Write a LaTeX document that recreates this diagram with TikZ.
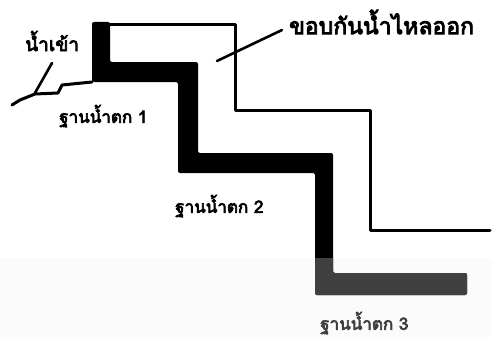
\documentclass[tikz,border=0pt]{standalone}
\usepackage{fontspec}
\newfontfamily\thaifont[Script=Thai, FakeBold=4]{Loma}
\definecolor{scan}{HTML}{404040}
\tikzset{
  lbl/.style={inner sep=0pt, anchor=west, font=\thaifont\fontsize{17}{17}\selectfont},
  thin/.style={line width=3pt, line join=round, line cap=round},
  lead/.style={line width=2.6pt, line cap=round}
}
\begin{document}
\begin{tikzpicture}[x=1pt,y=-1pt]
\useasboundingbox (0,0) rectangle (492,337);
\fill[white] (0,0) rectangle (492,337);
\fill[black!1.5] (0,258) rectangle (492,337);
% thick staircase (waterfall bases)
\def\stair{(92,22) -- (110,22) -- (110,62) -- (198,62) -- (198,153) -- (333,153) -- (333,273) -- (467,273) -- (467,295) -- (315,295) -- (315,173) -- (178,173) -- (178,82) -- (92,82) -- cycle}
\fill[black, rounded corners=2pt] \stair;
\begin{scope}
  \clip (0,258) rectangle (492,337);
  \fill[scan, rounded corners=2pt] \stair;
\end{scope}
% thin outline (overflow rim)
\coordinate (r0) at (110,25);
\coordinate (r1) at (235,25);
\coordinate (r2) at (235,110);
\coordinate (r3) at (370,110);
\coordinate (r4) at (370,230);
\coordinate (r5) at (490,230);
\draw[thin] (r0) -- (r1) -- (r2) -- (r3) -- (r4) -- (r5);
% ground / inflow line
\coordinate (g0) at (12,105);
\coordinate (g1) at (20,100);
\coordinate (g2) at (35,94);
\coordinate (g3) at (58,93);
\coordinate (g4) at (62,85);
\coordinate (g5) at (92,82);
\draw[thin] (g0) -- (g1) -- (g2) -- (g3) -- (g4) -- (g5);
% labels
\node[lbl, font=\thaifont\fontsize{19}{19}\selectfont] (inflow) at (25,41) {น้ำเข้า};
\node[lbl, font=\thaifont\fontsize{23}{23}\selectfont] (rim) at (289,22) {ขอบกันน้ำไหลออก};
\node[lbl] (b1) at (59,116) {ฐานน้ำตก 1};
\node[lbl] (b2) at (175,206) {ฐานน้ำตก 2};
\node[lbl, text=scan] (b3) at (320,323) {ฐานน้ำตก 3};
% leaders
\coordinate (li0) at (52,63);
\coordinate (li1) at (35,93);
\draw[lead] (li0) -- (li1);
\coordinate (lr0) at (282,30);
\coordinate (lr1) at (217,61);
\draw[lead] (lr0) -- (lr1);
\end{tikzpicture}
\end{document}
